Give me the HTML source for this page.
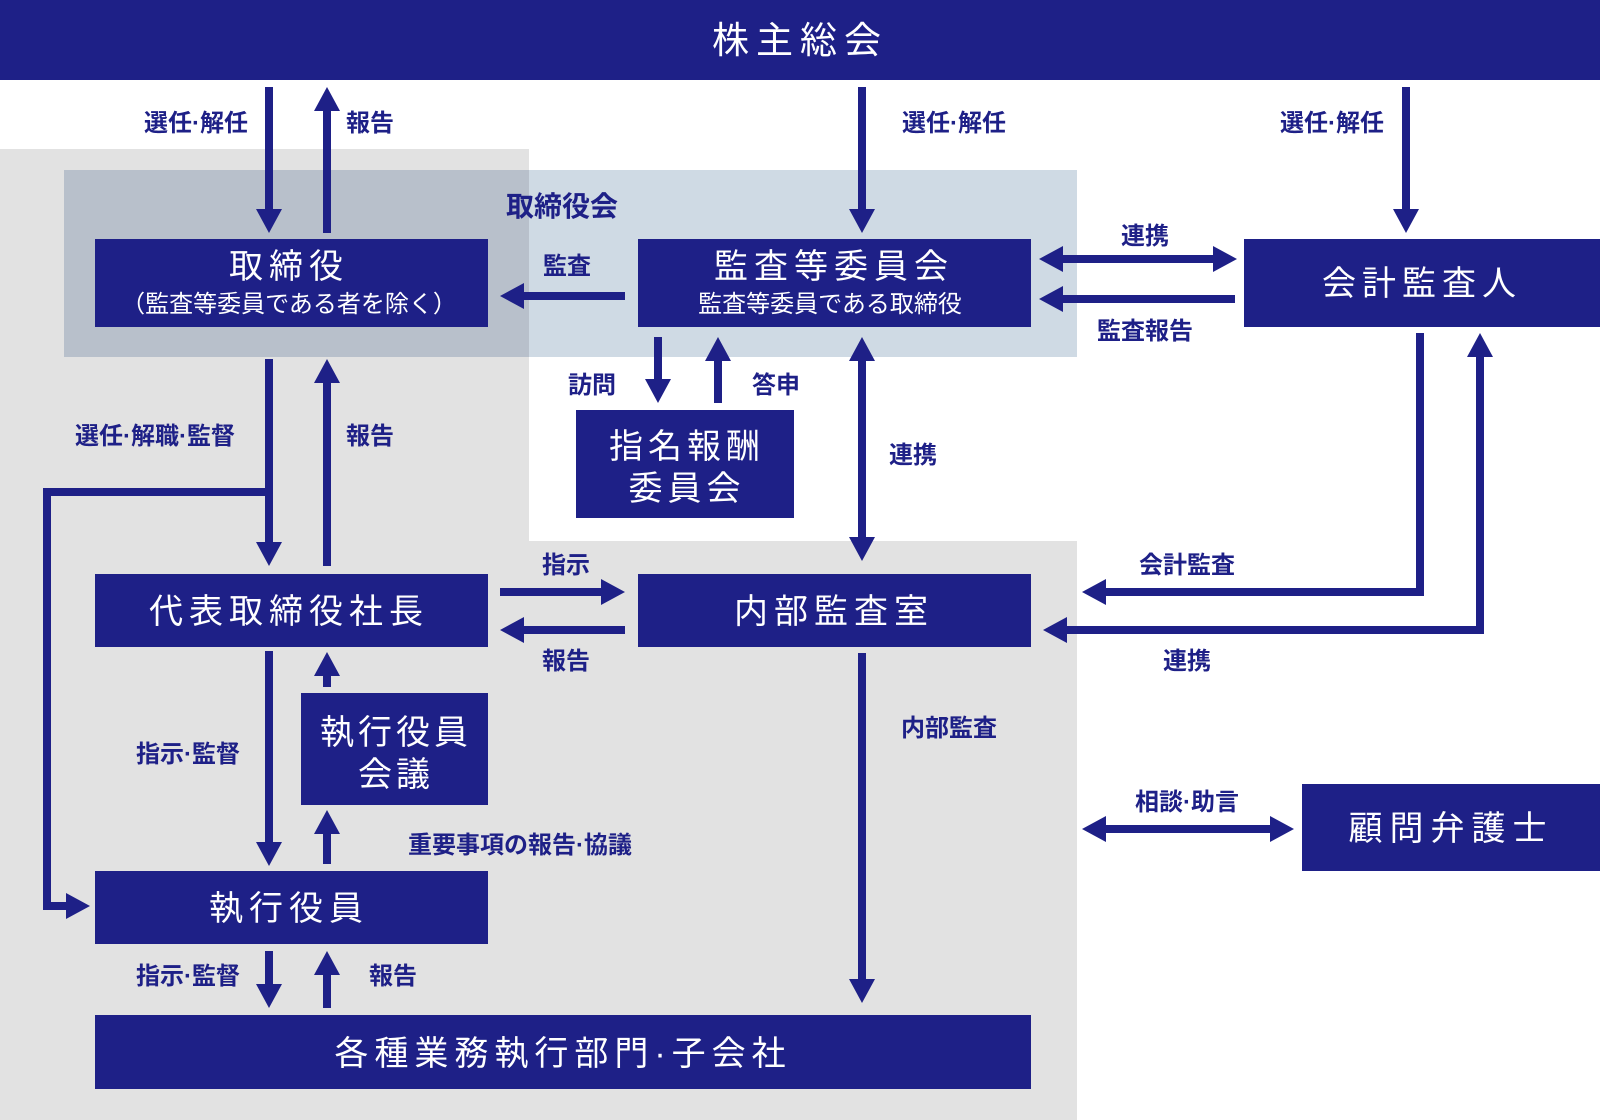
<!DOCTYPE html>
<html><head><meta charset="utf-8"><style>
html,body{margin:0;padding:0;background:#fff;}
svg{display:block;}
text{font-family:"Liberation Sans","Noto Sans CJK JP",sans-serif;}
.b{fill:#fff;text-anchor:middle;}
.l{fill:#1e2087;font-weight:bold;font-size:24px;text-anchor:middle;}
</style></head><body>
<svg width="1600" height="1120" viewBox="0 0 1600 1120" xmlns="http://www.w3.org/2000/svg">
<rect x="0" y="149" width="529" height="971" fill="#e2e2e2"/>
<rect x="0" y="541" width="1077" height="579" fill="#e2e2e2"/>
<rect x="529" y="170" width="548" height="187" fill="#cfdae4"/>
<rect x="64" y="170" width="465" height="187" fill="#b8c0cb"/>
<g fill="#1e2087">
<rect x="0" y="0" width="1600" height="80"/>
<rect x="95" y="239" width="393" height="88"/>
<rect x="638" y="239" width="393" height="88"/>
<rect x="1244" y="239" width="356" height="88"/>
<rect x="576" y="410" width="218" height="108"/>
<rect x="95" y="574" width="393" height="73"/>
<rect x="638" y="574" width="393" height="73"/>
<rect x="301" y="693" width="187" height="112"/>
<rect x="95" y="871" width="393" height="73"/>
<rect x="95" y="1015" width="936" height="74"/>
<rect x="1302" y="784" width="298" height="87"/>
<polygon points="265,87 273,87 273,209 282,209 269,233 256,209 265,209"/>
<polygon points="323,233 331,233 331,111 340,111 327,87 314,111 323,111"/>
<polygon points="858,87 866,87 866,209 875,209 862,233 849,209 858,209"/>
<polygon points="1402,87 1410,87 1410,209 1419,209 1406,233 1393,209 1402,209"/>
<polygon points="625,292 625,300 524,300 524,309 500,296 524,283 524,292"/>
<polygon points="1039,259 1063,246 1063,255 1213,255 1213,246 1237,259 1213,272 1213,263 1063,263 1063,272"/>
<polygon points="1235,295 1235,303 1063,303 1063,312 1039,299 1063,286 1063,295"/>
<polygon points="654,337 662,337 662,379 671,379 658,403 645,379 654,379"/>
<polygon points="714,403 722,403 722,361 731,361 718,337 705,361 714,361"/>
<polygon points="862,337 875,361 866,361 866,537 875,537 862,561 849,537 858,537 858,361 849,361"/>
<polygon points="265,359 273,359 273,542 282,542 269,566 256,542 265,542"/>
<polygon points="323,566 331,566 331,383 340,383 327,359 314,383 323,383"/>
<polygon points="66,893 90,906 66,919"/>
<polygon points="500,588 500,596 601,596 601,605 625,592 601,579 601,588"/>
<polygon points="625,626 625,634 524,634 524,643 500,630 524,617 524,626"/>
<polygon points="265,651 273,651 273,842 282,842 269,866 256,842 265,842"/>
<polygon points="323,687 331,687 331,676 340,676 327,652 314,676 323,676"/>
<polygon points="323,864 331,864 331,834 340,834 327,810 314,834 323,834"/>
<polygon points="265,951 273,951 273,984 282,984 269,1008 256,984 265,984"/>
<polygon points="323,1008 331,1008 331,975 340,975 327,951 314,975 323,975"/>
<polygon points="858,653 866,653 866,979 875,979 862,1003 849,979 858,979"/>
<polygon points="1106,579 1082,592 1106,605"/>
<polygon points="1467,357 1480,333 1493,357"/>
<polygon points="1067,617 1043,630 1067,643"/>
<polygon points="1082,829 1106,816 1106,825 1270,825 1270,816 1294,829 1270,842 1270,833 1106,833 1106,842"/>
</g>
<g fill="none" stroke="#1e2087" stroke-width="8">
<polyline points="269,492 47,492 47,906 68,906"/>
<polyline points="1420,333 1420,592 1104,592"/>
<polyline points="1065,630 1480,630 1480,355"/>
</g>
<text class="b" x="800" y="53" font-size="37" letter-spacing="7">株主総会</text>
<text class="b" x="289" y="278" font-size="34" letter-spacing="6">取締役</text>
<text class="b" x="289" y="312" font-size="24">（監査等委員である者を除く）</text>
<text class="b" x="834" y="278" font-size="34" letter-spacing="6">監査等委員会</text>
<text class="b" x="830" y="312" font-size="24">監査等委員である取締役</text>
<text class="b" x="1422" y="295" font-size="34" letter-spacing="6">会計監査人</text>
<text class="b" x="687" y="458" font-size="34" letter-spacing="5">指名報酬</text>
<text class="b" x="687" y="500" font-size="34" letter-spacing="5">委員会</text>
<text class="b" x="289" y="623" font-size="34" letter-spacing="6">代表取締役社長</text>
<text class="b" x="834" y="623" font-size="34" letter-spacing="6">内部監査室</text>
<text class="b" x="396" y="744" font-size="34" letter-spacing="4">執行役員</text>
<text class="b" x="396" y="786" font-size="34" letter-spacing="4">会議</text>
<text class="b" x="289" y="920" font-size="34" letter-spacing="6">執行役員</text>
<text class="b" x="563" y="1065" font-size="34" letter-spacing="6">各種業務執行部門·子会社</text>
<text class="b" x="1451" y="840" font-size="34" letter-spacing="7">顧問弁護士</text>
<text class="l" x="562" y="216" style="font-size:28px">取締役会</text>
<text class="l" x="196" y="131">選任·解任</text>
<text class="l" x="370" y="131">報告</text>
<text class="l" x="954" y="131">選任·解任</text>
<text class="l" x="1332" y="131">選任·解任</text>
<text class="l" x="567" y="274">監査</text>
<text class="l" x="1145" y="244">連携</text>
<text class="l" x="1145" y="339">監査報告</text>
<text class="l" x="592" y="393">訪問</text>
<text class="l" x="776" y="393">答申</text>
<text class="l" x="155" y="444">選任·解職·監督</text>
<text class="l" x="370" y="444">報告</text>
<text class="l" x="913" y="463">連携</text>
<text class="l" x="566" y="573">指示</text>
<text class="l" x="566" y="669">報告</text>
<text class="l" x="1187" y="573">会計監査</text>
<text class="l" x="1187" y="669">連携</text>
<text class="l" x="188" y="762">指示·監督</text>
<text class="l" x="949" y="736">内部監査</text>
<text class="l" x="1187" y="810">相談·助言</text>
<text class="l" x="520" y="853">重要事項の報告·協議</text>
<text class="l" x="188" y="984">指示·監督</text>
<text class="l" x="393" y="984">報告</text>
</svg>
</body></html>
